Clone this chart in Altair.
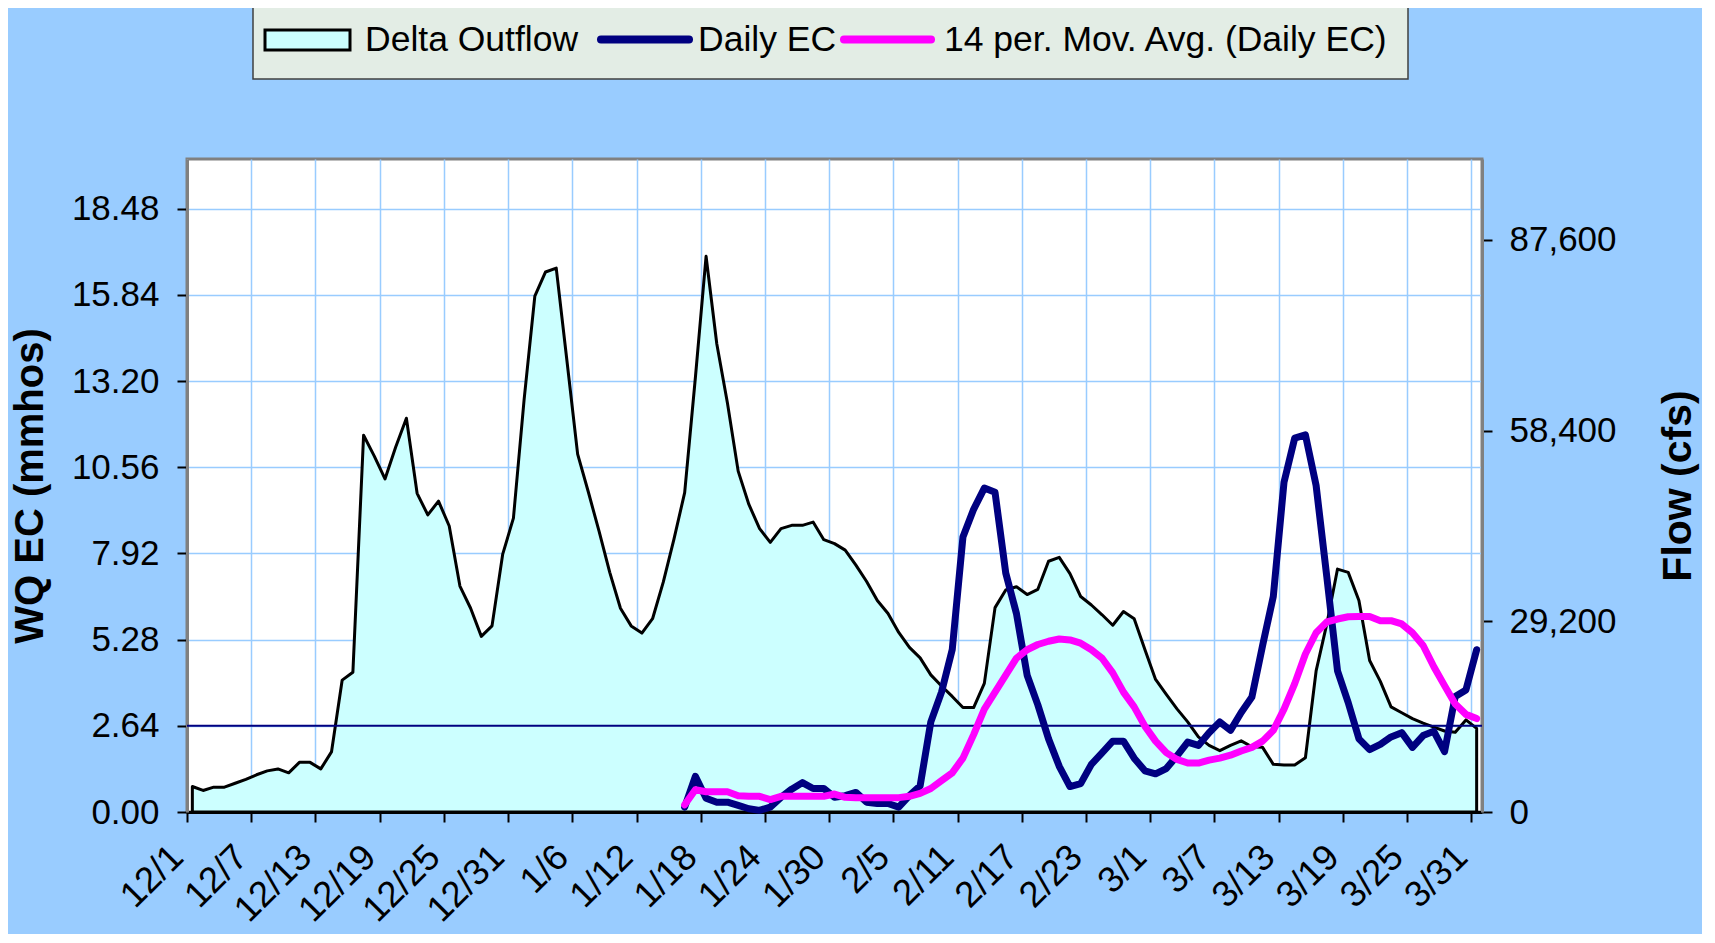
import json
import altair as alt
import pandas as pd

# ---------------- data ----------------
# Delta Outflow, thousands of cfs, daily 12/1 .. 3/31
flow_kcfs = [
    3.9, 3.3, 3.8, 3.8, 4.4, 5.0, 5.7, 6.3, 6.6, 6.0,
    7.6, 7.6, 6.6, 9.2, 20.2, 21.4, 57.7, 54.5, 51.0, 55.9,
    60.3, 48.8, 45.5, 47.6, 43.8, 34.6, 31.2, 26.9, 28.5, 39.5,
    45.0, 63.2, 79.0, 82.7, 83.3, 69.1, 54.8, 49.0, 43.0, 36.7,
    31.2, 28.5, 27.4, 29.6, 35.2, 41.8, 48.9, 66.5, 85.1, 71.7,
    62.6, 52.2, 47.1, 43.4, 41.3, 43.4, 43.9, 43.9, 44.4, 41.7,
    41.1, 40.1, 37.8, 35.3, 32.4, 30.4, 27.5, 25.2, 23.6, 21.0,
    19.3, 17.7, 16.0, 16.0, 19.7, 31.3, 34.0, 34.5, 33.3, 34.1,
    38.4, 39.0, 36.5, 33.0, 31.7, 30.2, 28.6, 30.7, 29.6, 24.9,
    20.3, 18.0, 15.8, 13.8, 11.5, 10.2, 9.4, 10.2, 10.9, 10.0,
    9.9, 7.3, 7.2, 7.2, 8.3, 21.6, 28.8, 37.2, 36.7, 32.4,
    23.2, 20.0, 16.1, 15.2, 14.3, 13.6, 13.0, 12.4, 12.2, 14.1,
    12.8,
]

# EC series start on day index 46 (1/16)
ec_start_day = 46
daily_ec = [
    0.15, 1.09, 0.42, 0.30, 0.30, 0.20, 0.10, 0.05, 0.15, 0.45,
    0.70, 0.90, 0.72, 0.72, 0.45, 0.50, 0.60, 0.30, 0.26, 0.26,
    0.15, 0.50, 0.80, 2.76, 3.67, 4.97, 8.42, 9.27, 9.92, 9.79,
    7.32, 6.08, 4.19, 3.28, 2.24, 1.40, 0.78, 0.87, 1.46, 1.81,
    2.17, 2.17, 1.65, 1.26, 1.17, 1.33, 1.72, 2.14, 2.04, 2.43,
    2.76, 2.50, 3.05, 3.52, 5.10, 6.60, 10.10, 11.45, 11.55, 10.00,
    7.20, 4.32, 3.35, 2.24, 1.91, 2.07, 2.30, 2.43, 1.98, 2.34,
    2.47, 1.85, 3.54, 3.74, 4.97,
]
mov_avg_ec = [
    0.22, 0.68, 0.62, 0.62, 0.62, 0.50, 0.48, 0.48, 0.38, 0.48,
    0.48, 0.48, 0.48, 0.48, 0.55, 0.45, 0.44, 0.44, 0.44, 0.44,
    0.44, 0.48, 0.57, 0.72, 0.96, 1.20, 1.65, 2.37, 3.15, 3.67,
    4.19, 4.71, 4.97, 5.13, 5.23, 5.30, 5.27, 5.17, 4.97, 4.71,
    4.26, 3.67, 3.22, 2.63, 2.17, 1.82, 1.61, 1.50, 1.50, 1.59,
    1.65, 1.74, 1.87, 1.98, 2.17, 2.50, 3.15, 3.93, 4.84, 5.49,
    5.82, 5.91, 5.98, 5.99, 5.99, 5.86, 5.86, 5.76, 5.49, 5.10,
    4.45, 3.87, 3.31, 2.99, 2.86,
]

x_tick_days = list(range(0, 121, 6))
x_tick_labels = ["12/1", "12/7", "12/13", "12/19", "12/25", "12/31", "1/6",
                 "1/12", "1/18", "1/24", "1/30", "2/5", "2/11", "2/17",
                 "2/23", "3/1", "3/7", "3/13", "3/19", "3/25", "3/31"]
ec_ticks = [0, 2.64, 5.28, 7.92, 10.56, 13.20, 15.84, 18.48]
flow_ticks = [0, 29200, 58400, 87600]
ec_standard = [2.64]
legend_names = ["Delta Outflow", "Daily EC", "14 per. Mov. Avg. (Daily EC)"]

# ---------------- tables ----------------
n_days = len(flow_kcfs)
flow_df = pd.DataFrame({
    "pos": [d + 0.5 for d in range(n_days)],
    "flow": [v * 1000 for v in flow_kcfs],
})
ec_df = pd.DataFrame({
    "pos": [ec_start_day + i + 0.5 for i in range(len(daily_ec))],
    "ec": daily_ec,
})
ma_df = pd.DataFrame({
    "pos": [ec_start_day + i + 0.5 for i in range(len(mov_avg_ec))],
    "ec": mov_avg_ec,
})
std_df = pd.DataFrame({"ec": ec_standard})

FONT = "Liberation Sans"
GRID = "#99CCFF"
NAVY = "#000080"
MAGENTA = "#FF00FF"

PLOT_W, PLOT_H = 1295, 653

label_expr = json.dumps(x_tick_labels) + "[round(datum.value / 6)]"
x_axis = alt.Axis(
    values=x_tick_days, labelExpr=label_expr, labelAngle=-45,
    labelAlign="right", labelBaseline="middle", labelPadding=29, labelOffset=-10,
    labelFontSize=36.5, labelFont=FONT, labelColor="black", labelOverlap=False,
    tickSize=10, tickWidth=2, tickColor="black",
    domainColor="black", domainWidth=3,
    grid=True, gridColor=GRID, gridWidth=1.5, title=None,
)
x_enc = alt.X("pos:Q", scale=alt.Scale(domain=[0, 121], nice=False, zero=False),
              axis=x_axis)

ec_scale = alt.Scale(domain=[0, 20], nice=False, zero=True)
ec_axis = alt.Axis(
    orient="left", values=ec_ticks, format=".2f",
    labelFontSize=35, labelFont=FONT, labelColor="black", labelPadding=18,
    tickSize=10, tickWidth=2, tickColor="black",
    domainColor="#808080", domainWidth=3,
    grid=True, gridColor=GRID, gridWidth=1.5,
    title="WQ EC (mmhos)", titleFont=FONT, titleFontSize=40,
    titleFontWeight="bold", titleColor="black", titleAngle=270,
    titleAlign="center", titleBaseline="middle", titleX=-157, titleY=PLOT_H / 2,
)
flow_scale = alt.Scale(domain=[0, 100000], nice=False, zero=True)
flow_axis = alt.Axis(
    orient="right", values=flow_ticks, format=",d",
    labelFontSize=35, labelFont=FONT, labelColor="black", labelPadding=17,
    tickSize=10, tickWidth=2, tickColor="black",
    domainColor="#808080", domainWidth=3, grid=False,
    title="Flow (cfs)", titleFont=FONT, titleFontSize=41,
    titleFontWeight="bold", titleColor="black", titleAngle=270,
    titleAlign="center", titleBaseline="middle", titleX=196, titleY=PLOT_H / 2,
)

area = alt.Chart(flow_df).mark_area(
    fill="#CCFFFF", stroke="black", strokeWidth=3, strokeJoin="round",
    interpolate="linear", fillOpacity=1,
).encode(x=x_enc, y=alt.Y("flow:Q", scale=flow_scale, axis=flow_axis))

std_rule = alt.Chart(std_df).mark_rule(color=NAVY, strokeWidth=2).encode(
    y=alt.Y("ec:Q", scale=ec_scale, axis=ec_axis))
ec_line = alt.Chart(ec_df).mark_line(
    color=NAVY, strokeWidth=7, strokeJoin="round", strokeCap="round"
).encode(x=x_enc, y=alt.Y("ec:Q", scale=ec_scale, axis=ec_axis))
ma_line = alt.Chart(ma_df).mark_line(
    color=MAGENTA, strokeWidth=7, strokeJoin="round", strokeCap="round"
).encode(x=x_enc, y=alt.Y("ec:Q", scale=ec_scale, axis=ec_axis))

ec_group = alt.layer(std_rule, ec_line, ma_line)

# ---------------- legend (drawn above the plot) ----------------
one = pd.DataFrame({"k": [0]})
leg_y = -119.5
leg_box = alt.Chart(one).mark_rect(fill="#E3EDE5", stroke="#404040", strokeWidth=1.5).encode(
    x=alt.value(66), x2=alt.value(1221), y=alt.value(-154), y2=alt.value(-80))
leg_swatch = alt.Chart(one).mark_rect(fill="#CCFFFF", stroke="black", strokeWidth=3).encode(
    x=alt.value(78), x2=alt.value(163), y=alt.value(-129), y2=alt.value(-109))
leg_navy = alt.Chart(one).mark_rule(color=NAVY, strokeWidth=8, strokeCap="round").encode(
    x=alt.value(414), x2=alt.value(502), y=alt.value(leg_y))
leg_mag = alt.Chart(one).mark_rule(color=MAGENTA, strokeWidth=8, strokeCap="round").encode(
    x=alt.value(657), x2=alt.value(744), y=alt.value(leg_y))


def leg_text(x, s):
    return alt.Chart(one).mark_text(
        align="left", baseline="middle", font=FONT, fontSize=35.5, color="black"
    ).encode(x=alt.value(x), y=alt.value(leg_y), text=alt.value(s))


legend = alt.layer(
    leg_box, leg_swatch, leg_navy, leg_mag,
    leg_text(178, legend_names[0]), leg_text(511, legend_names[1]),
    leg_text(757, legend_names[2]),
)

chart = alt.layer(area, ec_group, legend).resolve_scale(y="independent").properties(
    width=PLOT_W, height=PLOT_H,
    autosize=alt.AutoSizeParams(type="none"),
    padding={"left": 179, "top": 151, "right": 220, "bottom": 122},
    background="#99CCFF",
).configure_view(stroke="#808080", strokeWidth=3, fill="white")

chart.save("out.html", embed_options={"renderer": "svg", "actions": False})
